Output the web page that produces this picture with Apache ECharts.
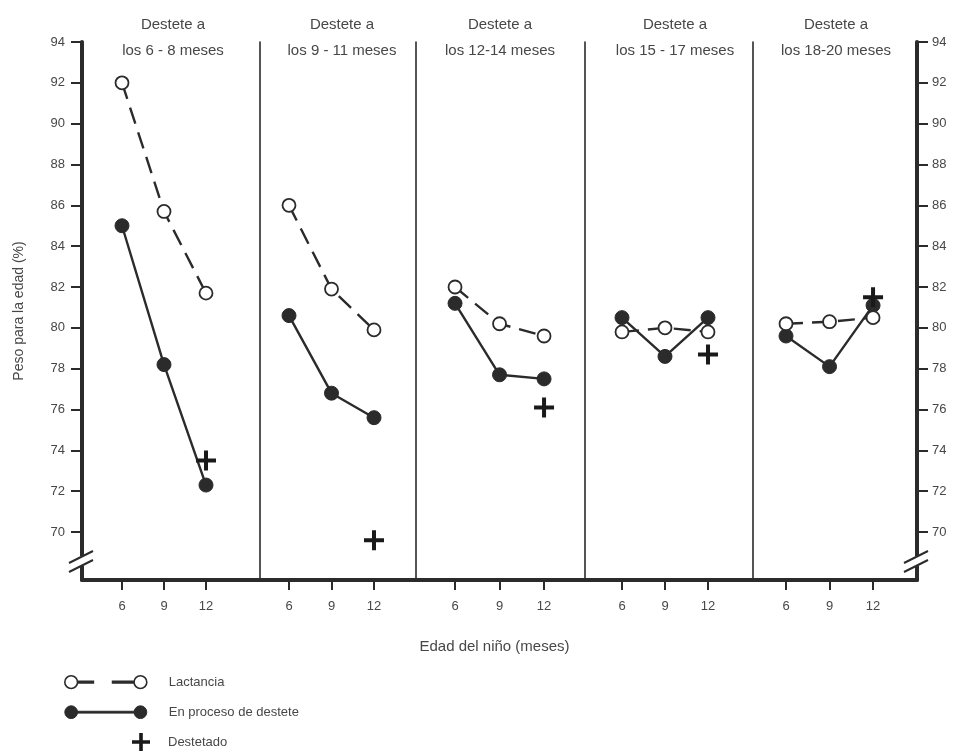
<!DOCTYPE html>
<html>
<head>
<meta charset="utf-8">
<script src="https://cdn.jsdelivr.net/npm/echarts@6/dist/echarts.min.js"></script>
<style>html,body{margin:0;padding:0;background:#fff}#c{width:954px;height:755px}</style>
</head>
<body>
<div id="c"></div>
<script>
// ---------------- data ----------------
const ages = [6, 9, 12];
const panelTitles = [
  'Destete a\nlos 6 - 8 meses',
  'Destete a\nlos 9 - 11 meses',
  'Destete a\nlos 12-14 meses',
  'Destete a\nlos 15 - 17 meses',
  'Destete a\nlos 18-20 meses'
];
// one row per panel, values at ages 6, 9, 12
const lactancia = [
  [92.0, 85.7, 81.7],
  [86.0, 81.9, 79.9],
  [82.0, 80.2, 79.6],
  [79.8, 80.0, 79.8],
  [80.2, 80.3, 80.5]
];
const enProceso = [
  [85.0, 78.2, 72.3],
  [80.6, 76.8, 75.6],
  [81.2, 77.7, 77.5],
  [80.5, 78.6, 80.5],
  [79.6, 78.1, 81.1]
];
// weaned children, measured at 12 months in each panel
const destetado = [73.5, 69.6, 76.1, 78.7, 81.5];
const yTicks = [70, 72, 74, 76, 78, 80, 82, 84, 86, 88, 90, 92, 94];
const seriesNames = ['Lactancia', 'En proceso de destete', 'Destetado'];
const yAxisName = 'Peso para la edad (%)';
const xAxisName = 'Edad del niño (meses)';

// ---------------- layout / style ----------------
const FONT = "'Liberation Sans', Arial, sans-serif";
const INK = '#2b2b2b';
const TXT = '#474747';
const panels = [
  { left: 82,  width: 178, xmin: 3.143, xmax: 15.857, titleX: 173 },
  { left: 260, width: 156, xmin: 3.953, xmax: 14.964, titleX: 342 },
  { left: 416, width: 169, xmin: 3.37,  xmax: 14.76,  titleX: 500 },
  { left: 585, width: 168, xmin: 3.418, xmax: 15.14,  titleX: 675 },
  { left: 753, width: 164, xmin: 3.724, xmax: 15.03,  titleX: 836 }
];
const Y_MIN = 67.65, Y_MAX = 94, BREAK_Y = 68.63;
const GRID_TOP = 42, GRID_H = 538;

const PLUS = 'path://M8,0H12V8H20V12H12V20H8V12H0V8H8Z';
const ICON_OPEN = 'path://M0.7,7A6.3,6.3,0,1,0,13.3,7A6.3,6.3,0,1,0,0.7,7Z' +
  'M69.3,7A6.3,6.3,0,1,0,81.9,7A6.3,6.3,0,1,0,69.3,7Z' +
  'M14,6.2H29V7.8H14ZM48,6.2H68V7.8H48Z';
const ICON_FILLED = 'path://M0.7,7A6.3,6.3,0,1,0,13.3,7A6.3,6.3,0,1,0,0.7,7Z' +
  'M69.3,7A6.3,6.3,0,1,0,81.9,7A6.3,6.3,0,1,0,69.3,7Z' +
  'M13,6.1H70V7.9H13Z';

const grid = panels.map(p => ({ left: p.left, width: p.width, top: GRID_TOP, height: GRID_H }));

const xAxis = panels.map((p, i) => ({
  type: 'value', gridIndex: i, min: p.xmin, max: p.xmax,
  axisLine: { lineStyle: { color: INK, width: 4 } },
  axisTick: { customValues: ages, length: 10, lineStyle: { color: INK, width: 2 } },
  axisLabel: { customValues: ages, margin: 20, fontSize: 13, color: TXT, fontFamily: FONT },
  splitLine: { show: false },
  name: i === 2 ? xAxisName : '',
  nameLocation: 'middle', nameGap: 59,
  nameTextStyle: { fontSize: 15, color: TXT, fontFamily: FONT, padding: [0, 12, 0, 0] }
}));

const thickY = (gi, pos) => ({
  type: 'value', gridIndex: gi, position: pos, min: Y_MIN, max: Y_MAX,
  axisLine: { show: true, lineStyle: { color: INK, width: 4 } },
  axisTick: { show: true, customValues: yTicks, length: 11, lineStyle: { color: INK, width: 2 } },
  axisLabel: { customValues: yTicks, margin: pos === 'left' ? 17 : 15, fontSize: 13, color: TXT, fontFamily: FONT },
  splitLine: { show: false }
});
const thinY = gi => ({
  type: 'value', gridIndex: gi, position: 'left', min: Y_MIN, max: Y_MAX,
  axisLine: { show: true, lineStyle: { color: INK, width: 1.6 } },
  axisTick: { show: false }, axisLabel: { show: false }, splitLine: { show: false }
});
const yAxis = [thickY(0, 'left'), thinY(1), thinY(2), thinY(3), thinY(4), thickY(4, 'right')];
Object.assign(yAxis[0], {
  name: yAxisName, nameLocation: 'middle', nameGap: 56, nameRotate: 90,
  nameTextStyle: { fontSize: 14, color: TXT, fontFamily: FONT }
});

const series = [];
panels.forEach((p, i) => {
  series.push({
    name: seriesNames[1], type: 'line', xAxisIndex: i, yAxisIndex: i,
    data: ages.map((a, k) => [a, enProceso[i][k]]),
    symbol: 'circle', symbolSize: 14,
    itemStyle: { color: INK, borderColor: INK, borderWidth: 1, opacity: 1 },
    lineStyle: { color: INK, width: 2.4 }, z: 2
  });
  series.push({
    name: seriesNames[0], type: 'line', xAxisIndex: i, yAxisIndex: i,
    data: ages.map((a, k) => [a, lactancia[i][k]]),
    symbol: 'circle', symbolSize: 13,
    itemStyle: { color: '#fff', borderColor: INK, borderWidth: 1.8, opacity: 1 },
    lineStyle: { color: INK, width: 2.4, type: [17, 9] }, z: 3
  });
  series.push({
    name: seriesNames[2], type: 'scatter', xAxisIndex: i, yAxisIndex: i,
    data: [[12, destetado[i]]],
    symbol: PLUS, symbolSize: 20,
    itemStyle: { color: '#1a1a1a', opacity: 1 }, z: 4
  });
});

const title = panels.map((p, i) => ({
  text: panelTitles[i], left: p.titleX, top: 12, textAlign: 'center', padding: 0,
  textStyle: { fontSize: 15, fontWeight: 'normal', color: TXT, fontFamily: FONT, lineHeight: 26 }
}));

const legend = [
  {
    orient: 'vertical', left: 64, top: 675, padding: 0, itemGap: 16,
    itemWidth: 82, itemHeight: 13, selectedMode: false,
    textStyle: { fontSize: 13, color: TXT, fontFamily: FONT, padding: [0, 0, 0, 17] },
    data: [
      { name: seriesNames[0], icon: ICON_OPEN, itemStyle: { color: '#fff', borderColor: INK, borderWidth: 1.6, opacity: 1 } },
      { name: seriesNames[1], icon: ICON_FILLED, itemStyle: { color: INK, borderColor: INK, borderWidth: 1, opacity: 1 } }
    ]
  },
  {
    orient: 'vertical', left: 132, top: 733, padding: 0,
    itemWidth: 18, itemHeight: 18, selectedMode: false,
    textStyle: { fontSize: 13, color: TXT, fontFamily: FONT, padding: [0, 0, 0, 13] },
    data: [{ name: seriesNames[2], icon: PLUS, itemStyle: { color: '#1a1a1a', borderWidth: 0, opacity: 1 } }]
  }
];

const chart = echarts.init(document.getElementById('c'), null, { renderer: 'canvas' });
chart.setOption({
  backgroundColor: '#fff',
  animation: false,
  textStyle: { fontFamily: FONT },
  title, legend, grid, xAxis, yAxis, series
});

// axis-break marks on both vertical axes
const pl = chart.convertToPixel({ gridIndex: 0 }, [panels[0].xmin, BREAK_Y]);
const pr = chart.convertToPixel({ gridIndex: 4 }, [panels[4].xmax, BREAK_Y]);
const breakMark = (x, y) => [
  { type: 'rect', z: 100, shape: { x: x - 4, y: y - 4, width: 8, height: 10 }, style: { fill: '#fff' } },
  { type: 'line', z: 101, shape: { x1: x - 13, y1: y + 3, x2: x + 11, y2: y - 9 }, style: { stroke: INK, lineWidth: 2 } },
  { type: 'line', z: 101, shape: { x1: x - 13, y1: y + 12, x2: x + 11, y2: y }, style: { stroke: INK, lineWidth: 2 } }
];
chart.setOption({ graphic: breakMark(pl[0], pl[1]).concat(breakMark(pr[0], pr[1])) });
</script>
</body>
</html>
